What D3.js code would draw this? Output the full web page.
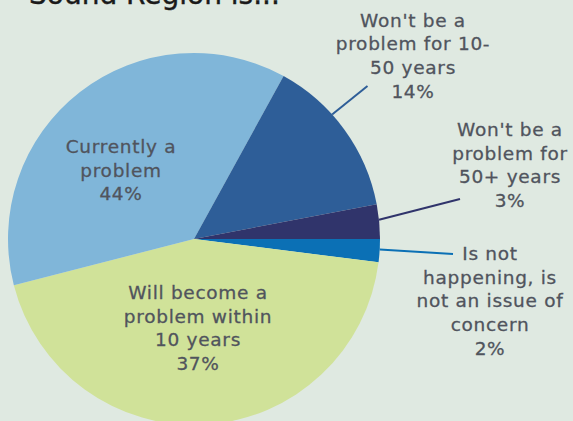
<!DOCTYPE html>
<html>
<head>
<meta charset="utf-8">
<script src="https://cdn.jsdelivr.net/npm/d3@7"></script>
<style>
  html, body { margin: 0; padding: 0; background: #dfe9e1; }
  svg { display: block; }
</style>
</head>
<body>
<div id="chart"></div>
<script>
// slice order, clockwise from 3 o'clock
const categories = [
    "Is not happening, is not an issue of concern",
    "Will become a problem within 10 years",
    "Currently a problem",
    "Won't be a problem for 10-50 years",
    "Won't be a problem for 50+ years"
];
// slice sizes as drawn
const sliceShares = [2, 44, 37, 14, 3];
// percentages as printed on the labels
const printedPct = ["2%", "37%", "44%", "14%", "3%"];
const labelLines = [
    ["Is not", "happening, is", "not an issue of", "concern"],
    ["Will become a", "problem within", "10 years"],
    ["Currently a", "problem"],
    ["Won't be a", "problem for 10-", "50 years"],
    ["Won't be a", "problem for", "50+ years"]
];
const titleText = "Sound Region is...";

/**********************
***** BASIC SETUP *****
**********************/
const width = 573;
const height = 421;
const colors = ["#0b70b5", "#d0e299", "#80b6d9", "#2e5e98", "#30346b"];
const textColor = "#50545d";

const svg = d3.select("#chart").append("svg")
    .attr("width", width)
    .attr("height", height);

svg.append("rect")
    .attr("width", width)
    .attr("height", height)
    .attr("fill", "#dfe9e1");

// title, mostly cut off at the top
svg.append("text")
    .attr("x", 29)
    .attr("y", 4)
    .style("font-family", "DejaVu Sans, sans-serif")
    .style("font-size", "28px")
    .attr("fill", "#1a1a1a")
    .attr("stroke", "#1a1a1a")
    .attr("stroke-width", 0.4)
    .text(titleText);

/*****************
***** PIE *****
*****************/
const cx = 194, cy = 239, radius = 186;

const pie = d3.pie()
    .sort(null)
    .startAngle(Math.PI / 2)
    .endAngle(Math.PI / 2 + 2 * Math.PI);

const arcs = pie(sliceShares);
const arc = d3.arc().innerRadius(0).outerRadius(radius);

const plot = svg.append("g")
    .attr("transform", `translate(${cx}, ${cy})`);

plot.selectAll(".slice")
    .data(arcs)
    .join("path")
    .attr("class", "slice")
    .attr("d", arc)
    .attr("fill", (d, i) => colors[i]);

/*************************
***** LABELS, LEADERS *****
*************************/
// label placement: centre x, first baseline y; leader: end point + where on slice it attaches
const labelPos = [
    {x: 490, y: 260, leader: {x: 453, y: 254, t: 0.45}},
    {x: 198, y: 299},
    {x: 121, y: 153},
    {x: 413, y: 26.5, leader: {x: 367.5, y: 86, t: 0.38}},
    {x: 510, y: 136, leader: {x: 460, y: 199, t: 0.45}}
];
const lineHeight = 23.7;

arcs.forEach((d, i) => {
    const pos = labelPos[i];
    if (pos.leader) {
        const a = d.startAngle + (d.endAngle - d.startAngle) * pos.leader.t;
        svg.append("line")
            .attr("x1", cx + radius * Math.sin(a))
            .attr("y1", cy - radius * Math.cos(a))
            .attr("x2", pos.leader.x)
            .attr("y2", pos.leader.y)
            .attr("stroke", colors[i])
            .attr("stroke-width", 2);
    }
    const lines = labelLines[i].concat([printedPct[i]]);
    const t = svg.append("text")
        .attr("text-anchor", "middle")
        .style("font-family", "DejaVu Sans, sans-serif")
        .style("font-size", "18.5px")
        .style("letter-spacing", "0.7px")
        .attr("fill", textColor)
        .attr("stroke", textColor)
        .attr("stroke-width", 0.3);
    lines.forEach((l, j) => {
        t.append("tspan")
            .attr("x", pos.x)
            .attr("y", pos.y + j * lineHeight)
            .text(l);
    });
});
</script>
</body>
</html>
